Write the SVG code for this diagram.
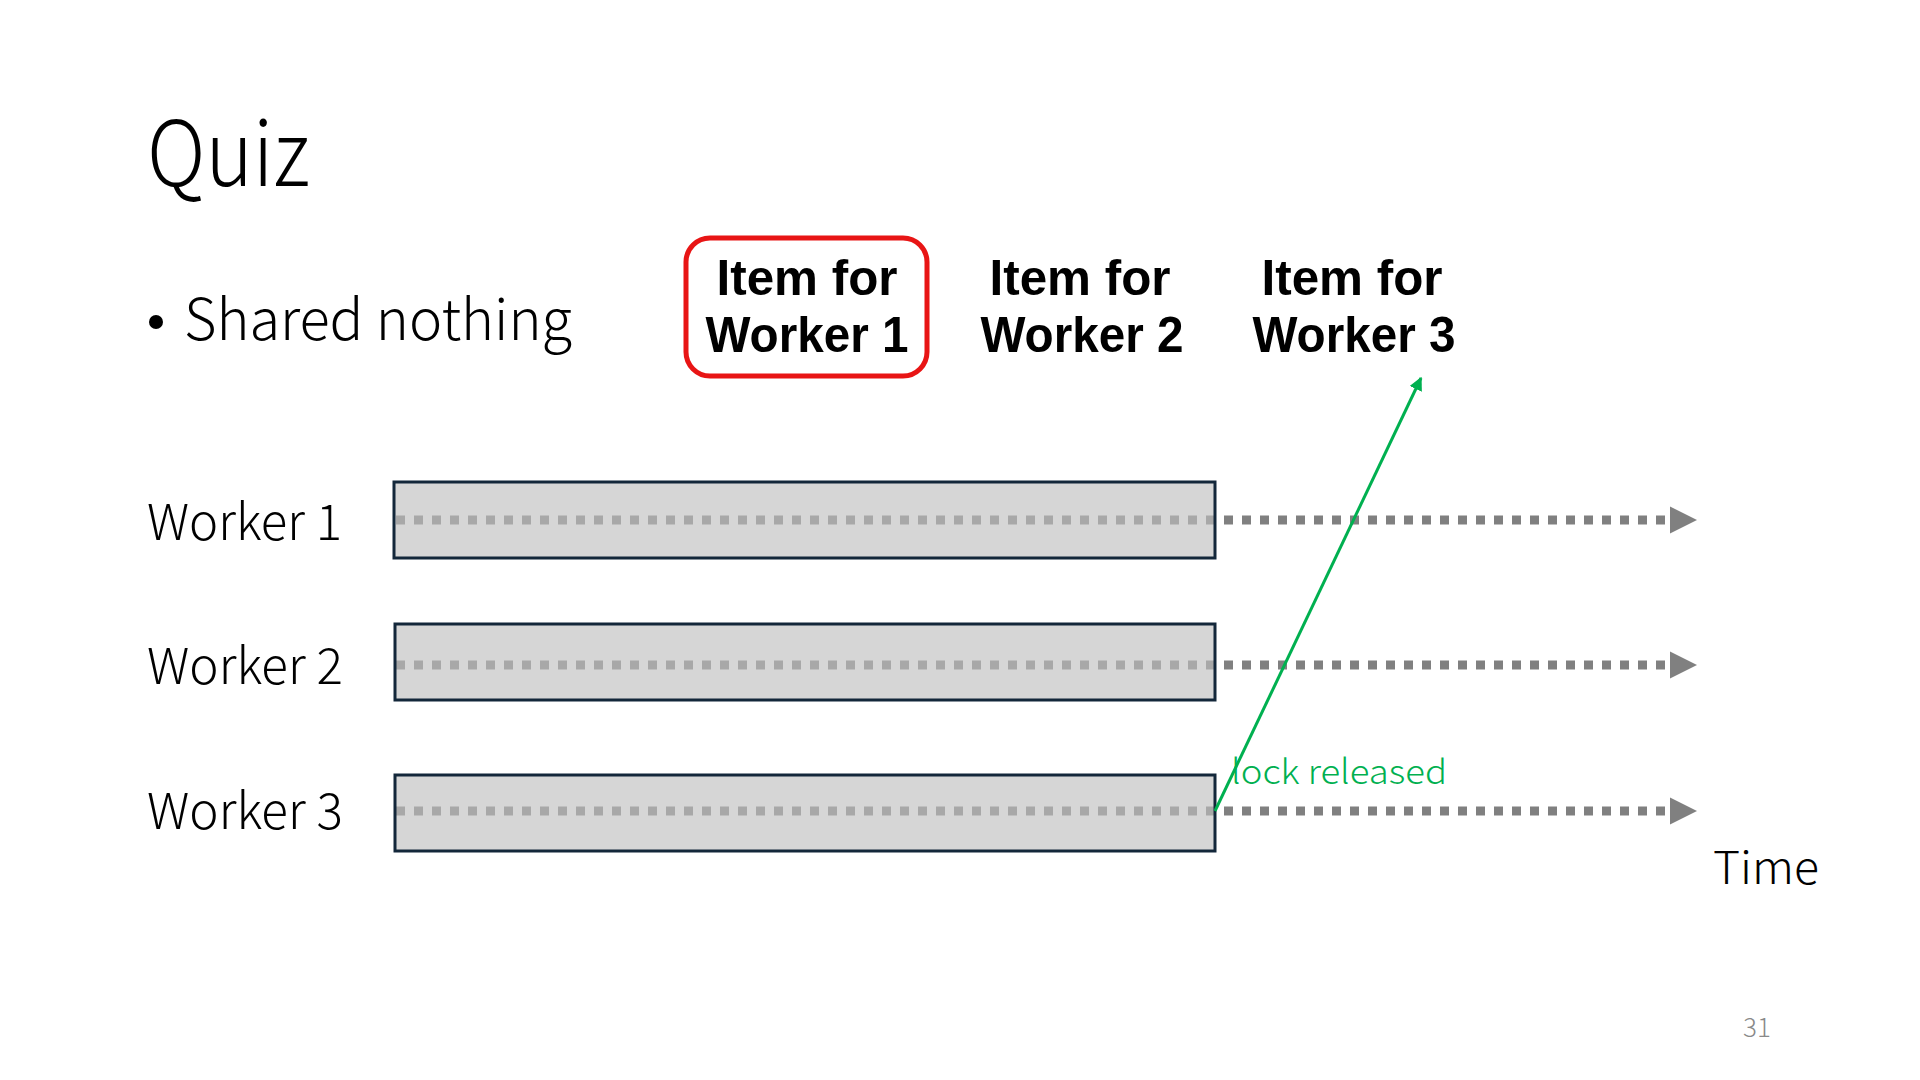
<svg xmlns="http://www.w3.org/2000/svg" width="1920" height="1080" viewBox="0 0 1920 1080">
<style>
.lt{font-family:"Noto Sans CJK JP","Noto Sans",sans-serif;font-weight:300;fill:#000}
.bd{font-family:"Liberation Sans",Arial,sans-serif;font-weight:700;fill:#000;font-size:50px;text-anchor:middle}
.box{fill:#bfbfbf;fill-opacity:0.64;stroke:#13273a;stroke-width:3}
.dots{stroke:#808080;stroke-width:9;stroke-dasharray:9 9;fill:none}
.head{fill:#808080}
</style>
<defs>
<marker id="ga" viewBox="0 0 10 10" refX="9" refY="5" markerWidth="4.5" markerHeight="4.5" orient="auto" markerUnits="strokeWidth">
<path d="M0,0 L10,5 L0,10 z" fill="#00b050"/>
</marker>
</defs>
<rect width="1920" height="1080" fill="#fff"/>
<g id="title"><text class="lt" x="147" y="186" font-size="90" textLength="163" lengthAdjust="spacingAndGlyphs">Quiz</text></g>
<g id="bullet"><circle cx="156" cy="322" r="7" fill="#000"/><text class="lt" x="184" y="340" font-size="57" textLength="388" lengthAdjust="spacingAndGlyphs">Shared nothing</text></g>
<g id="item1">
<rect x="686" y="238" width="241" height="138" rx="24" fill="none" stroke="#e81515" stroke-width="5"/>
<text class="bd" x="807" y="295" textLength="181" lengthAdjust="spacingAndGlyphs">Item for</text>
<text class="bd" x="807" y="352" textLength="203" lengthAdjust="spacingAndGlyphs">Worker 1</text>
</g>
<g id="item2">
<text class="bd" x="1080" y="295" textLength="181" lengthAdjust="spacingAndGlyphs">Item for</text>
<text class="bd" x="1082" y="352" textLength="203" lengthAdjust="spacingAndGlyphs">Worker 2</text>
</g>
<g id="item3">
<text class="bd" x="1352" y="295" textLength="181" lengthAdjust="spacingAndGlyphs">Item for</text>
<text class="bd" x="1354" y="352" textLength="203" lengthAdjust="spacingAndGlyphs">Worker 3</text>
</g>
<g id="connectors">
<line class="dots" x1="396" y1="520" x2="1666" y2="520"/>
<polygon class="head" points="1670,506.5 1697,520 1670,533.5"/>
<line class="dots" x1="396" y1="665" x2="1666" y2="665"/>
<polygon class="head" points="1670,651.5 1697,665 1670,678.5"/>
<line class="dots" x1="396" y1="811" x2="1666" y2="811"/>
<polygon class="head" points="1670,797.5 1697,811 1670,824.5"/>
</g>
<g id="worker1"><text class="lt" x="147" y="540" font-size="50" textLength="195" lengthAdjust="spacingAndGlyphs">Worker 1</text><rect class="box" x="394" y="482" width="821" height="76"/></g>
<g id="worker2"><text class="lt" x="147" y="684" font-size="50" textLength="196" lengthAdjust="spacingAndGlyphs">Worker 2</text><rect class="box" x="395" y="624" width="820" height="76"/></g>
<g id="worker3"><text class="lt" x="147" y="829" font-size="50" textLength="196" lengthAdjust="spacingAndGlyphs">Worker 3</text><rect class="box" x="395" y="775" width="820" height="76"/></g>
<g id="lock">
<line x1="1215" y1="811" x2="1421" y2="378" stroke="#00b050" stroke-width="3" marker-end="url(#ga)"/>
<text x="1231" y="784" font-family="Noto Sans CJK JP, Noto Sans, sans-serif" font-weight="300" font-size="34" fill="#00b050" textLength="216" lengthAdjust="spacingAndGlyphs">lock released</text>
</g>
<g id="time"><text class="lt" x="1713" y="884" font-size="45" textLength="106" lengthAdjust="spacingAndGlyphs">Time</text></g>
<g id="page"><text x="1743" y="1037" font-family="Noto Sans CJK JP, Noto Sans, sans-serif" font-weight="300" font-size="26" fill="#898989">31</text></g>
</svg>
